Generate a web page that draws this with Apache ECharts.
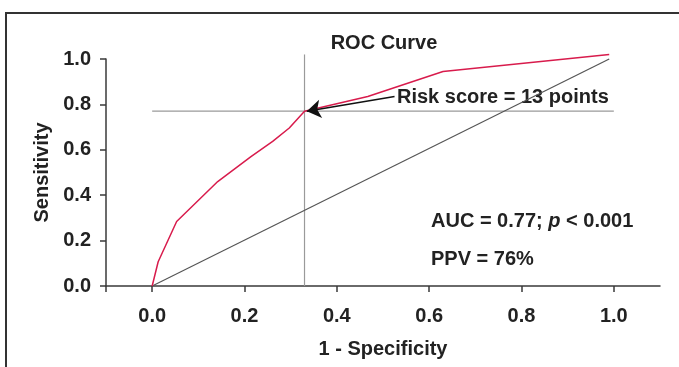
<!DOCTYPE html>
<html>
<head>
<meta charset="utf-8">
<script src="https://cdn.jsdelivr.net/npm/echarts@6/dist/echarts.min.js"></script>
<style>
  html, body { margin: 0; padding: 0; background: #fff; }
  #chart { width: 679px; height: 367px; }
</style>
</head>
<body>
<div id="chart"></div>
<script>
// ROC curve (1 - specificity, sensitivity)
const rocFpr = [0, 0.013, 0.053, 0.142, 0.214, 0.261, 0.297, 0.33, 0.467, 0.63, 0.99];
const rocTpr = [0, 0.107, 0.284, 0.46, 0.57, 0.637, 0.696, 0.77, 0.835, 0.945, 1.02];

// reference (chance) line
const diagX = [0, 0.99];
const diagY = [0, 1.0];

// cut-off point: risk score = 13 points
const cutX = 0.33;
const cutY = 0.77;
const cutVertical = [[cutX, 0], [cutX, 1.02]];
const cutHorizontal = [[0, cutY], [1.0, cutY]];
const arrowFrom = [0.525, 0.835];
const arrowTo = [0.335, 0.77];

const xTicks = [-0.1, 0, 0.2, 0.4, 0.6, 0.8, 1.0];
const xLabels = [0, 0.2, 0.4, 0.6, 0.8, 1.0];

const FONT = 'Liberation Sans, Arial, sans-serif';
const AXIS_COLOR = '#3a3a3a';

let myChart = echarts.init(document.getElementById('chart'));

let rocData = rocFpr.map((x, i) => [x, rocTpr[i]]);
let diagData = diagX.map((x, i) => [x, diagY[i]]);

let option = {
  animation: false,
  grid: { left: 106, right: 19, top: 59, bottom: 81 },
  xAxis: {
    type: 'value',
    min: -0.1,
    max: 1.1,
    name: '1 - Specificity',
    nameLocation: 'middle',
    nameGap: 53,
    nameTextStyle: { fontFamily: FONT, fontSize: 20, fontWeight: 'bold', color: '#222' },
    splitLine: { show: false },
    axisLine: { onZero: false, lineStyle: { color: AXIS_COLOR, width: 1.5 } },
    axisTick: { show: true, customValues: xTicks, length: 6, lineStyle: { color: AXIS_COLOR, width: 1.5 } },
    axisLabel: {
      customValues: xLabels,
      margin: 20,
      fontFamily: FONT, fontSize: 20, fontWeight: 'bold', color: '#222',
      formatter: v => v.toFixed(1)
    }
  },
  yAxis: {
    type: 'value',
    min: 0,
    max: 1,
    interval: 0.2,
    name: 'Sensitivity',
    nameLocation: 'middle',
    nameGap: 47,
    nameTextStyle: { fontFamily: FONT, fontSize: 20, fontWeight: 'bold', color: '#222' },
    splitLine: { show: false },
    axisLine: { show: true, onZero: false, lineStyle: { color: AXIS_COLOR, width: 1.5 } },
    axisTick: { show: true, length: 6, lineStyle: { color: AXIS_COLOR, width: 1.5 } },
    axisLabel: {
      margin: 15,
      fontFamily: FONT, fontSize: 20, fontWeight: 'bold', color: '#222',
      formatter: v => v.toFixed(1)
    }
  },
  series: [
    {
      name: 'cut-vertical',
      type: 'line',
      data: cutVertical,
      symbol: 'none',
      clip: false,
      silent: true,
      lineStyle: { color: '#9a9a9a', width: 1.2 }
    },
    {
      name: 'cut-horizontal',
      type: 'line',
      data: cutHorizontal,
      symbol: 'none',
      clip: false,
      silent: true,
      lineStyle: { color: '#9a9a9a', width: 1.2 }
    },
    {
      name: 'chance',
      type: 'line',
      data: diagData,
      symbol: 'none',
      clip: false,
      silent: true,
      lineStyle: { color: '#555', width: 1.2 }
    },
    {
      name: 'ROC',
      type: 'line',
      data: rocData,
      symbol: 'none',
      clip: false,
      lineStyle: { color: '#d81b4c', width: 1.5 },
      markLine: {
        silent: true,
        symbol: ['none', 'arrow'],
        symbolSize: 14,
        label: { show: false },
        lineStyle: { color: '#111', width: 1.5, type: 'solid' },
        data: [[{ coord: arrowFrom }, { coord: arrowTo }]]
      }
    }
  ],
  graphic: [
    {
      type: 'rect',
      silent: true,
      shape: { x: 6, y: 13, width: 720, height: 400 },
      style: { fill: 'none', stroke: '#333', lineWidth: 2 }
    },
    {
      type: 'text',
      x: 384, y: 43,
      style: {
        text: 'ROC Curve', fontFamily: FONT, fontSize: 20, fontWeight: 'bold', fill: '#222',
        textAlign: 'center', textVerticalAlign: 'middle'
      }
    },
    {
      type: 'text',
      x: 397, y: 97,
      style: {
        text: 'Risk score = 13 points', fontFamily: FONT, fontSize: 20, fontWeight: 'bold', fill: '#222',
        textAlign: 'left', textVerticalAlign: 'middle'
      }
    },
    {
      type: 'text',
      x: 431, y: 221,
      style: {
        text: 'AUC = 0.77; {it|p} < 0.001', fontFamily: FONT, fontSize: 20, fontWeight: 'bold', fill: '#222',
        textAlign: 'left', textVerticalAlign: 'middle',
        rich: { it: { fontFamily: FONT, fontSize: 20, fontWeight: 'bold', fontStyle: 'italic', fill: '#222' } }
      }
    },
    {
      type: 'text',
      x: 431, y: 259,
      style: {
        text: 'PPV = 76%', fontFamily: FONT, fontSize: 20, fontWeight: 'bold', fill: '#222',
        textAlign: 'left', textVerticalAlign: 'middle'
      }
    }
  ]
};

myChart.setOption(option);
</script>
</body>
</html>
